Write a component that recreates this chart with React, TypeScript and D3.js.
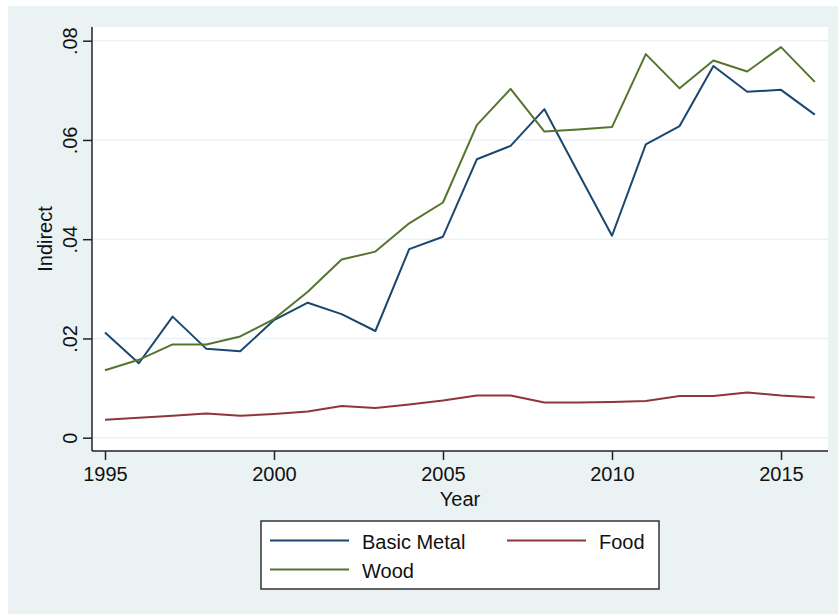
import React, { useEffect, useRef } from 'react'
import * as d3 from 'd3'

const years = d3.range(1995, 2017)

const basicMetal = [
	0.0212, 0.015, 0.0244, 0.0179, 0.0174, 0.0237, 0.0272, 0.0249, 0.0215, 0.038,
	0.0405, 0.0561, 0.0588, 0.0662, 0.0534, 0.0407, 0.0591, 0.0628, 0.0749,
	0.0697, 0.0701, 0.0651
]

const food = [
	0.0036, 0.004, 0.0044, 0.0049, 0.0044, 0.0048, 0.0053, 0.0064, 0.006, 0.0067,
	0.0075, 0.0085, 0.0085, 0.0071, 0.0071, 0.0072, 0.0074, 0.0084, 0.0084,
	0.0091, 0.0085, 0.0081
]

const wood = [
	0.0136, 0.0157, 0.0188, 0.0188, 0.0204, 0.0239, 0.0294, 0.0359, 0.0375,
	0.0432, 0.0474, 0.063, 0.0703, 0.0617, 0.0621, 0.0626, 0.0773, 0.0704,
	0.076, 0.0738, 0.0787, 0.0717
]

const xTicks = [1995, 2000, 2005, 2010, 2015]
const yTicks = [0, 0.02, 0.04, 0.06, 0.08]
const yTickLabels = ['0', '.02', '.04', '.06', '.08']

const series = [
	{ name: 'Basic Metal', values: basicMetal, color: '#1a476f' },
	{ name: 'Food', values: food, color: '#90353b' },
	{ name: 'Wood', values: wood, color: '#55752f' }
]

const App = () => {
	const ref = useRef<SVGSVGElement>(null)

	const width = 838
	const height = 614
	const plotLeft = 92
	const plotRight = 828
	const plotTop = 27
	const plotBottom = 451
	const font = '"Liberation Sans", Arial, sans-serif'

	useEffect(() => {
		if (!ref.current) return
		const svg = d3.select(ref.current)
		svg.selectAll('*').remove()

		const x = d3.scaleLinear().domain([1995, 2016]).range([105, 814.8])
		const y = d3.scaleLinear().domain([0, 0.08]).range([437.7, 40.7])

		// graph region and plot region
		svg
			.append('rect')
			.attr('x', 8)
			.attr('y', 6)
			.attr('width', width - 8)
			.attr('height', height - 6)
			.attr('fill', '#eaf2f3')
		svg
			.append('rect')
			.attr('x', plotLeft)
			.attr('y', plotTop)
			.attr('width', plotRight - plotLeft)
			.attr('height', plotBottom - plotTop)
			.attr('fill', '#ffffff')

		// gridlines
		svg
			.append('g')
			.selectAll('line')
			.data(yTicks)
			.join('line')
			.attr('x1', plotLeft)
			.attr('x2', plotRight)
			.attr('y1', d => y(d))
			.attr('y2', d => y(d))
			.attr('stroke', '#eaf2f3')
			.attr('stroke-width', 1.5)

		// lines
		const line = d3
			.line<number>()
			.x((_, i) => x(years[i]))
			.y(d => y(d))

		svg
			.append('g')
			.selectAll('path')
			.data(series)
			.join('path')
			.attr('d', d => line(d.values))
			.attr('fill', 'none')
			.attr('stroke', d => d.color)
			.attr('stroke-width', 2)
			.attr('stroke-linejoin', 'round')

		// y axis
		const yAxis = svg
			.append('g')
			.attr('transform', `translate(${plotLeft},0)`)
			.call(
				d3
					.axisLeft(y)
					.tickValues(yTicks)
					.tickSize(9)
					.tickFormat((_, i) => yTickLabels[i])
			)
		yAxis.select('.domain').attr('d', `M0,${plotTop}V${plotBottom}`)
		yAxis.selectAll('path, line').attr('stroke', '#222').attr('stroke-width', 1.5)
		yAxis
			.selectAll('text')
			.attr('x', 0)
			.attr('dy', null)
			.attr('transform', 'translate(-15,0) rotate(-90)')
			.attr('text-anchor', 'middle')
			.attr('font-family', font)
			.attr('font-size', 20)
			.attr('fill', '#111')

		// x axis
		const xAxis = svg
			.append('g')
			.attr('transform', `translate(0,${plotBottom})`)
			.call(d3.axisBottom(x).tickValues(xTicks).tickSize(9).tickFormat(d3.format('d')))
		xAxis.select('.domain').attr('d', `M${plotLeft},0H${plotRight}`)
		xAxis.selectAll('path, line').attr('stroke', '#222').attr('stroke-width', 1.5)
		xAxis
			.selectAll('text')
			.attr('y', 30)
			.attr('dy', null)
			.attr('font-family', font)
			.attr('font-size', 20)
			.attr('fill', '#111')

		// axis titles
		svg
			.append('text')
			.attr('x', (plotLeft + plotRight) / 2)
			.attr('y', 506)
			.attr('text-anchor', 'middle')
			.attr('font-family', font)
			.attr('font-size', 20)
			.attr('fill', '#111')
			.text('Year')
		svg
			.append('text')
			.attr('transform', `translate(52,${(plotTop + plotBottom) / 2}) rotate(-90)`)
			.attr('text-anchor', 'middle')
			.attr('font-family', font)
			.attr('font-size', 20)
			.attr('fill', '#111')
			.text('Indirect')

		// legend
		const legend = svg.append('g')
		legend
			.append('rect')
			.attr('x', 261)
			.attr('y', 521)
			.attr('width', 398)
			.attr('height', 68)
			.attr('fill', '#ffffff')
			.attr('stroke', '#333')
			.attr('stroke-width', 1.5)

		const legendPos = [
			{ lx: 270, tx: 362, ly: 540.5, ty: 549 },
			{ lx: 507, tx: 599, ly: 540.5, ty: 549 },
			{ lx: 270, tx: 362, ly: 569.5, ty: 578 }
		]
		const items = legend
			.selectAll('g.item')
			.data(series)
			.join('g')
			.attr('class', 'item')
		items
			.append('line')
			.attr('x1', (_, i) => legendPos[i].lx)
			.attr('x2', (_, i) => legendPos[i].lx + 79)
			.attr('y1', (_, i) => legendPos[i].ly)
			.attr('y2', (_, i) => legendPos[i].ly)
			.attr('stroke', d => d.color)
			.attr('stroke-width', 2)
		items
			.append('text')
			.attr('x', (_, i) => legendPos[i].tx)
			.attr('y', (_, i) => legendPos[i].ty)
			.attr('font-family', font)
			.attr('font-size', 20)
			.attr('fill', '#111')
			.text(d => d.name)
	}, [])

	return (
		<svg
			ref={ref}
			width={width}
			height={height}
			style={{ position: 'absolute', left: 0, top: 0 }}
		></svg>
	)
}

export default App
